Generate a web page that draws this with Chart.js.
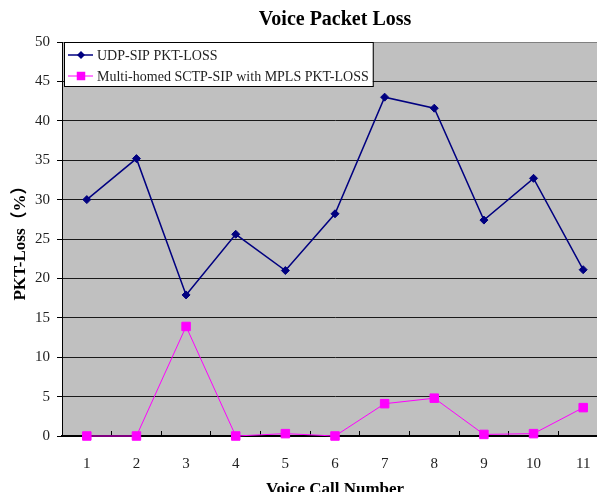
<!DOCTYPE html>
<html>
<head>
<meta charset="utf-8">
<script src="https://cdn.jsdelivr.net/npm/chart.js@4/dist/chart.umd.min.js"></script>
<style>
  body { margin: 0; overflow: hidden; background: #fff; }
</style>
</head>
<body>
<canvas id="myChart" width="615" height="500"></canvas>
<script>
const callNumbers = ['1', '2', '3', '4', '5', '6', '7', '8', '9', '10', '11'];
const udpSip = [30.0, 35.2, 17.9, 25.6, 21.0, 28.2, 43.0, 41.6, 27.4, 32.7, 21.1];
const sctpSip = [0, 0, 13.9, 0, 0.3, 0, 4.1, 4.8, 0.2, 0.3, 3.6];
const yTicks = [0, 5, 10, 15, 20, 25, 30, 35, 40, 45, 50];

const serif = '"Liberation Serif", "Times New Roman", "Noto Sans CJK TC", serif';

// gray plot area like the old excel chart
const plotBackground = {
  id: 'plotBackground',
  beforeDraw(chart) {
    const { ctx, chartArea } = chart;
    ctx.save();
    ctx.fillStyle = '#c0c0c0';
    ctx.fillRect(chartArea.left, chartArea.top, chartArea.right - chartArea.left, chartArea.bottom - chartArea.top);
    ctx.restore();
  }
};

// legend box sitting inside the top left of the plot
const boxLegend = {
  id: 'boxLegend',
  afterDatasetsDraw(chart) {
    const { ctx, chartArea } = chart;
    const sets = chart.data.datasets;
    ctx.save();
    ctx.font = '14px ' + serif;
    const textW = Math.max(...sets.map(d => ctx.measureText(d.label).width));
    const x = chartArea.left + 2;
    const y = chartArea.top;
    const w = 33 + textW + 4;
    const h = 44;
    ctx.fillStyle = '#fff';
    ctx.fillRect(x, y, w, h);
    ctx.strokeStyle = '#000';
    ctx.lineWidth = 1;
    ctx.strokeRect(x + 0.5, y + 0.5, w, h);
    sets.forEach((ds, i) => {
      const ly = y + 13 + i * 21;
      ctx.strokeStyle = ds.borderColor;
      ctx.lineWidth = ds.borderWidth;
      ctx.beginPath();
      ctx.moveTo(x + 4, ly);
      ctx.lineTo(x + 29, ly);
      ctx.stroke();
      ctx.fillStyle = ds.borderColor;
      ctx.beginPath();
      if (ds.pointStyle === 'rectRot') {
        const r = ds.pointRadius;
        ctx.moveTo(x + 17, ly - r);
        ctx.lineTo(x + 17 + r, ly);
        ctx.lineTo(x + 17, ly + r);
        ctx.lineTo(x + 17 - r, ly);
        ctx.closePath();
      } else {
        const s = ds.pointRadius * Math.SQRT1_2;
        ctx.rect(x + 17 - s, ly - s, s * 2, s * 2);
      }
      ctx.fill();
      ctx.fillStyle = '#222';
      ctx.textBaseline = 'middle';
      ctx.fillText(ds.label, x + 33, ly + 1);
    });
    ctx.restore();
  }
};

const data = {
  labels: callNumbers,
  datasets: [{
    label: 'UDP-SIP PKT-LOSS',
    data: udpSip,
    borderColor: '#000080',
    backgroundColor: '#000080',
    borderWidth: 1.5,
    pointStyle: 'rectRot',
    pointRadius: 4,
    pointBorderWidth: 1,
    tension: 0,
    clip: false
  }, {
    label: 'Multi-homed SCTP-SIP with MPLS PKT-LOSS',
    data: sctpSip,
    borderColor: '#ff00ff',
    backgroundColor: '#ff00ff',
    borderWidth: 1,
    pointStyle: 'rect',
    pointRadius: 6,
    pointBorderWidth: 1,
    tension: 0,
    clip: false
  }]
};

const config = {
  type: 'line',
  data: data,
  options: {
    responsive: false,
    animation: false,
    layout: { padding: 0 },
    plugins: {
      legend: { display: false },
      tooltip: { enabled: false },
      title: {
        display: true,
        text: 'Voice Packet Loss',
        fullSize: false,
        color: '#000',
        font: { family: serif, size: 20, weight: 'bold' },
        padding: { top: 8, bottom: 10 }
      }
    },
    scales: {
      x: {
        offset: true,
        grid: { offset: true, drawOnChartArea: false, tickLength: -5, color: '#000' },
        border: { color: '#000', width: 2 },
        ticks: { padding: 24, color: '#222', font: { family: serif, size: 15 } },
        title: {
          display: true,
          text: 'Voice Call Number',
          color: '#000',
          font: { family: serif, size: 17, weight: 'bold' },
          padding: { top: 0, bottom: 0 }
        },
        afterFit(scale) { scale.height = 64; }
      },
      y: {
        min: 0,
        max: 50,
        afterBuildTicks(scale) { scale.ticks = yTicks.map(v => ({ value: v })); },
        grid: {
          color: ctx => (ctx.tick && ctx.tick.value === 50 ? '#808080' : '#1a1a1a'),
          tickColor: '#000',
          tickLength: 5
        },
        border: { color: '#000', width: 1 },
        ticks: { padding: 7, color: '#222', font: { family: serif, size: 15 } },
        title: {
          display: true,
          text: 'PKT-Loss（%）',
          color: '#000',
          font: { family: serif, size: 17, weight: 'bold' },
          padding: { top: 10, bottom: 0 }
        },
        afterFit(scale) { scale.width = 62; }
      }
    }
  },
  plugins: [plotBackground, boxLegend]
};

const myChart = new Chart(document.getElementById('myChart'), config);
</script>
</body>
</html>
